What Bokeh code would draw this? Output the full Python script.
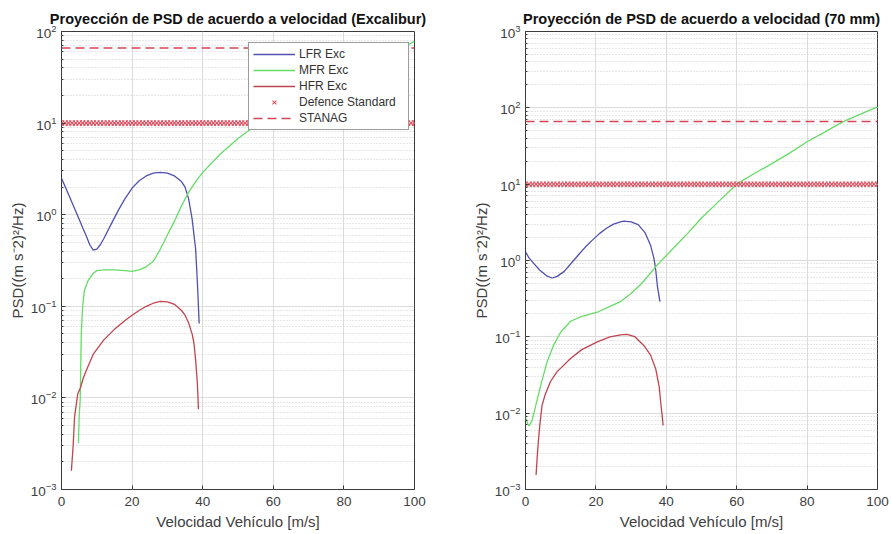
from bokeh.plotting import figure
from bokeh.layouts import row
from bokeh.models import Range1d, Legend, LegendItem, FixedTicker
from bokeh.embed import file_html
from bokeh.resources import INLINE

# ---------------- data ----------------
titles = ["Proyección de PSD de acuerdo a velocidad (Excalibur)",
          "Proyección de PSD de acuerdo a velocidad (70 mm)"]
x_label = "Velocidad Vehículo [m/s]"
y_label = "PSD((m s\u207b2)\u00b2/Hz)"
series_names = ["LFR Exc", "MFR Exc", "HFR Exc", "Defence Standard", "STANAG"]
x_ticks = [0, 20, 40, 60, 80, 100]

# Left panel (Excalibur)
exc_lfr_x = [0, 1, 2, 3, 4, 5, 6, 7, 8, 9, 10, 11, 12, 14, 16, 18, 20, 22, 24, 26, 28, 30, 32, 34, 35, 36, 37, 38, 38.5, 39]
exc_lfr_y = [2.5, 2.05, 1.66, 1.35, 1.1, 0.89, 0.72, 0.59, 0.47, 0.41, 0.42, 0.47, 0.55, 0.78, 1.1, 1.5, 1.95, 2.35, 2.65, 2.85, 2.9, 2.85, 2.65, 2.3, 2.0, 1.5, 0.9, 0.42, 0.18, 0.065]

exc_mfr_x = [4.8, 5.0, 5.3, 5.6, 6.0, 6.5, 7.5, 9, 10, 12, 15, 18, 20, 22, 24, 26, 28, 30, 32, 34, 36, 38, 40, 45, 50, 55, 60, 65, 70, 75, 80, 85, 90, 95, 100]
exc_mfr_y = [0.0032, 0.0063, 0.0095, 0.05, 0.1, 0.15, 0.19, 0.23, 0.245, 0.25, 0.25, 0.245, 0.24, 0.25, 0.27, 0.31, 0.42, 0.6, 0.85, 1.25, 1.75, 2.3, 2.9, 4.6, 6.8, 9.4, 12.5, 16.5, 21.5, 27, 34, 42, 51, 62, 78]

exc_hfr_x = [2.8, 3.3, 3.7, 4.6, 5.4, 6.2, 7.5, 9, 12, 15, 18, 20, 22, 24, 26, 28, 30, 32, 34, 35, 36, 37, 37.5, 38, 38.5, 38.8]
exc_hfr_y = [0.0016, 0.003, 0.0062, 0.011, 0.013, 0.0166, 0.022, 0.03, 0.043, 0.056, 0.07, 0.08, 0.09, 0.1, 0.108, 0.113, 0.112, 0.105, 0.09, 0.08, 0.066, 0.05, 0.04, 0.026, 0.014, 0.0075]

# Right panel (70 mm)
mm_lfr_x = [0, 1, 2.4, 4, 6, 7.6, 9, 11, 13, 15, 17, 19, 21, 23, 25, 27, 28, 30, 32, 34, 35.5, 36.5, 37, 37.5, 38.2]
mm_lfr_y = [1.3, 1.08, 0.91, 0.75, 0.63, 0.59, 0.62, 0.72, 0.92, 1.18, 1.5, 1.85, 2.25, 2.65, 3.0, 3.2, 3.27, 3.2, 2.95, 2.3, 1.6, 1.06, 0.75, 0.45, 0.29]

mm_mfr_x = [0, 0.5, 1, 1.9, 3, 4.3, 6, 8, 10, 12.8, 16, 20.4, 24, 27, 30, 33, 37.4, 42, 46, 50, 55, 60, 65, 70, 75, 80, 85, 90, 95, 100]
mm_mfr_y = [0.0089, 0.0075, 0.0068, 0.0081, 0.013, 0.023, 0.045, 0.078, 0.115, 0.16, 0.185, 0.21, 0.25, 0.29, 0.37, 0.5, 0.87, 1.45, 2.25, 3.6, 6.0, 10, 13.8, 18.6, 25.5, 36, 48, 65, 82, 103]

mm_hfr_x = [3.0, 3.4, 3.8, 4.2, 4.7, 5.5, 7.1, 9, 12.8, 16, 20.4, 24, 27, 28.9, 31, 33.6, 35.5, 37, 38, 38.4, 38.8, 39.1]
mm_hfr_y = [0.00155, 0.003, 0.0051, 0.008, 0.0126, 0.017, 0.026, 0.035, 0.052, 0.068, 0.086, 0.1, 0.106, 0.108, 0.101, 0.077, 0.058, 0.038, 0.022, 0.014, 0.0095, 0.0069]

# Reference limits
defence_speeds = list(range(0, 101))
defence_level = 10
stanag_speeds = [0, 100]
stanag_level = 66

y_ranges = [(1e-3, 1e2), (1e-3, 1e3)]

# ---------------- style ----------------
FONT = "Liberation Sans"
C_BLUE = "#5050b2"
C_GREEN = "#66dc66"
C_RED = "#c0444f"
C_DASH = "#d24656"
C_MARK = "#de4f5f"
TXT = "#404040"


def make_fig(title, yr, width, border_left, border_right):
    p = figure(width=width, height=534, title=title,
               x_range=Range1d(0, 100), y_range=Range1d(*yr),
               y_axis_type="log", output_backend="svg", toolbar_location=None,
               min_border_left=border_left, min_border_right=border_right,
               min_border_top=31, min_border_bottom=45)
    p.title.text_font = FONT
    p.title.text_font_size = "14.5px"
    p.title.text_font_style = "bold"
    p.title.text_color = "#111111"
    p.title.align = "center"
    p.title.standoff = 9
    p.outline_line_color = "#3a3a3a"
    p.outline_line_width = 1
    p.background_fill_color = "white"

    p.xaxis.ticker = FixedTicker(ticks=x_ticks)
    for ax in [p.xaxis[0], p.yaxis[0]]:
        ax.major_label_text_font = FONT
        ax.major_label_text_font_size = "13.5px"
        ax.major_label_text_color = TXT
        ax.axis_label_text_font = FONT
        ax.axis_label_text_font_size = "15px"
        ax.axis_label_text_font_style = "normal"
        ax.axis_label_text_color = TXT
        ax.axis_line_color = None
        ax.major_tick_in = 4
        ax.major_tick_out = 0
        ax.major_tick_line_color = "#3a3a3a"
        ax.minor_tick_in = 2
        ax.minor_tick_out = 0
        ax.minor_tick_line_color = "#3a3a3a"
    p.xaxis.minor_tick_line_color = None
    p.xaxis.axis_label = x_label
    p.yaxis.axis_label = y_label
    p.xaxis.major_label_standoff = 7
    p.xaxis.axis_label_standoff = 4
    p.yaxis.major_label_standoff = 5
    p.yaxis.axis_label_standoff = 2

    p.xgrid.grid_line_color = "#dcdcdc"
    p.ygrid.grid_line_color = "#dcdcdc"
    p.ygrid.minor_grid_line_color = "#cfcfcf"
    p.ygrid.minor_grid_line_dash = "1 2"
    return p


def draw(p, lfr, mfr, hfr):
    r1 = p.line(lfr[0], lfr[1], line_color=C_BLUE, line_width=1.3)
    r2 = p.line(mfr[0], mfr[1], line_color=C_GREEN, line_width=1.3)
    r3 = p.line(hfr[0], hfr[1], line_color=C_RED, line_width=1.3)
    r4 = p.scatter(defence_speeds, [defence_level] * len(defence_speeds), marker="x",
                   size=7.5, line_color=C_MARK, line_width=1.1)
    r5 = p.line(stanag_speeds, [stanag_level] * len(stanag_speeds), line_color=C_DASH,
                line_width=1.5, line_dash="9 5")
    return [r1, r2, r3, r4, r5]


p1 = make_fig(titles[0], y_ranges[0], 448, 61, 34)
rs = draw(p1, (exc_lfr_x, exc_lfr_y), (exc_mfr_x, exc_mfr_y), (exc_hfr_x, exc_hfr_y))
legend = Legend(items=[LegendItem(label=n, renderers=[r]) for n, r in zip(series_names, rs)],
                location=(187, 359))
legend.label_text_font = FONT
legend.label_text_font_size = "12px"
legend.label_text_color = "#333333"
legend.glyph_width = 42
legend.glyph_height = 14
legend.label_height = 14
legend.label_width = 105
legend.spacing = 2
legend.padding = 4
legend.margin = 0
legend.label_standoff = 4
legend.border_line_color = "#3a3a3a"
legend.border_line_width = 1
legend.background_fill_color = "white"
legend.background_fill_alpha = 1.0
p1.add_layout(legend, "center")

p2 = make_fig(titles[1], y_ranges[1], 443, 77, 14)
draw(p2, (mm_lfr_x, mm_lfr_y), (mm_mfr_x, mm_mfr_y), (mm_hfr_x, mm_hfr_y))

layout = row(p1, p2)
open("out.html", "w").write(file_html(layout, INLINE))
